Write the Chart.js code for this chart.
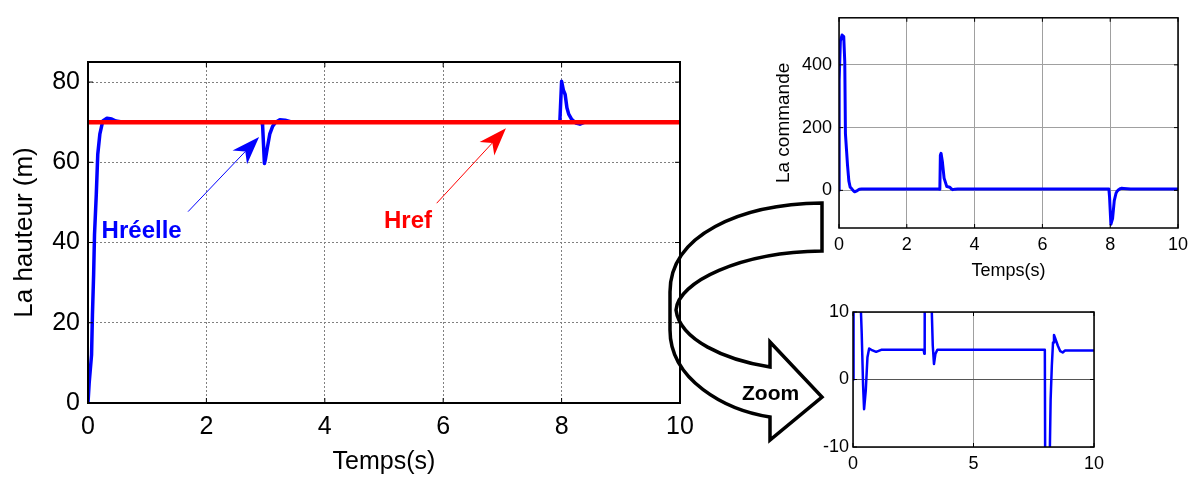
<!DOCTYPE html>
<html>
<head>
<meta charset="utf-8">
<script src="https://cdn.jsdelivr.net/npm/chart.js@4"></script>
<style>
  html, body { margin: 0; padding: 0; background: #fff; }
  #page { position: relative; width: 1196px; height: 478px; overflow: hidden; }
  #page canvas { position: absolute; }
</style>
</head>
<body>
<div id="page">
  <canvas id="hauteur" width="720" height="478" style="left:0px;top:0px"></canvas>
  <canvas id="commande" width="436" height="300" style="left:760px;top:0px"></canvas>
  <canvas id="zoomChart" width="396" height="188" style="left:800px;top:290px"></canvas>
  <canvas id="overlay" width="1196" height="478" style="left:0px;top:0px;pointer-events:none"></canvas>
</div>
<script>
const FONT = "'Liberation Sans', Arial, Helvetica, sans-serif";

// La hauteur (m) - réelle
const tHauteur = [0, 0.02, 0.06, 0.075, 0.095, 0.11, 0.14, 0.165, 0.2, 0.25, 0.32, 0.4, 0.47, 0.55,
  2.94, 2.95, 2.98, 3.0, 3.03, 3.07, 3.12, 3.17, 3.24, 3.33, 3.42,
  7.97, 8.0, 8.03, 8.06, 8.09, 8.12, 8.17, 8.24, 8.31, 8.37, 8.45, 10];
const hReelle = [0, 5, 12, 22, 32, 42, 52, 62, 67, 70.3, 71, 70.8, 70.3, 70.1,
  70, 69, 59.7, 61, 63.7, 67, 69, 70, 70.6, 70.5, 70.1,
  70, 80.2, 78, 76.9, 73.6, 72, 70.7, 69.8, 69.5, 69.9, 70.1, 70];
// Href
const tRef = [0, 10];
const hRef = [70, 70];

// La commande
const tCommande = [0, 0.005, 0.04, 0.09, 0.14, 0.17, 0.19, 0.25, 0.29, 0.33, 0.36, 0.42, 0.46, 0.53, 0.6, 0.67, 0.76, 0.96, 1.17,
  2.93, 2.96, 2.975, 2.99, 3.01, 3.05, 3.1, 3.18, 3.27, 3.31, 3.36, 3.42, 3.5,
  7.96, 7.98, 8.02, 8.07, 8.12, 8.17, 8.2, 8.25, 8.3, 8.34, 8.4, 8.5, 8.6, 8.7, 8.8, 10];
const uCommande = [0, 350, 475, 495, 490, 410, 180, 82, 30, 10, 7, -1, -4.4, -1.6, 3.3, 4.6, 4.4, 4.1, 4.4,
  4.4, 3.8, 4.5, 112, 118, 91, 39, 12, 10, 5, 2.3, 3.8, 4.4,
  4.4, -20, -108, -90, -33, -10, -3, 2, 5.5, 6.6, 6, 5, 4.2, 4.0, 4.3, 4.3];

// tick labels
const ticksTemps = [0, 2, 4, 6, 8, 10];
const ticksHauteur = [0, 20, 40, 60, 80];
const ticksCommande = [0, 200, 400];
const ticksZoomT = [0, 5, 10];
const ticksZoomU = [-10, 0, 10];

const pts = (xs, ys) => xs.map((x, i) => ({ x: x, y: ys[i] }));

function axis(min, max, ticks, o) {
  return {
    type: 'linear', min: min, max: max,
    afterBuildTicks: s => { s.ticks = ticks.map(v => ({ value: v })); },
    afterFit: s => {
      if (o.width != null) s.width = o.width;
      if (o.height != null) s.height = o.height;
    },
    grid: { color: o.grid, lineWidth: 1, drawTicks: false },
    border: { display: false, dash: o.dash || [] },
    ticks: { padding: o.pad, color: '#000', autoSkip: false, maxRotation: 0,
             font: { family: FONT, size: o.size } },
    title: o.title
      ? { display: true, text: o.title, color: '#000', padding: o.titlePad,
          font: { family: FONT, size: o.titleSize } }
      : { display: false }
  };
}

// box + inner ticks, matlab style
function frame(width, len) {
  return {
    id: 'frame',
    afterDraw(chart) {
      const { ctx, chartArea: a, scales: { x, y } } = chart;
      ctx.save();
      ctx.strokeStyle = '#000';
      ctx.lineWidth = 1;
      ctx.beginPath();
      x.ticks.forEach(t => {
        const p = x.getPixelForValue(t.value);
        ctx.moveTo(p, a.bottom); ctx.lineTo(p, a.bottom - len);
        ctx.moveTo(p, a.top); ctx.lineTo(p, a.top + len);
      });
      y.ticks.forEach(t => {
        const p = y.getPixelForValue(t.value);
        ctx.moveTo(a.left, p); ctx.lineTo(a.left + len, p);
        ctx.moveTo(a.right, p); ctx.lineTo(a.right - len, p);
      });
      ctx.stroke();
      ctx.lineWidth = width;
      ctx.strokeRect(a.left, a.top, a.right - a.left, a.bottom - a.top);
      ctx.restore();
    }
  };
}

function drawArrow(ctx, x0, y0, x1, y1, color) {
  const ang = Math.atan2(y1 - y0, x1 - x0);
  const L = 28, W = 10, N = 8;
  ctx.strokeStyle = color;
  ctx.fillStyle = color;
  ctx.lineWidth = 1;
  ctx.beginPath();
  ctx.moveTo(x0, y0);
  ctx.lineTo(x1 - (L - N) * Math.cos(ang), y1 - (L - N) * Math.sin(ang));
  ctx.stroke();
  ctx.save();
  ctx.translate(x1, y1);
  ctx.rotate(ang);
  ctx.beginPath();
  ctx.moveTo(0, 0);
  ctx.lineTo(-L, -W);
  ctx.lineTo(-(L - N), 0);
  ctx.lineTo(-L, W);
  ctx.closePath();
  ctx.fill();
  ctx.restore();
}

// labels and arrows of the main plot, in data units
const annotations = {
  id: 'annot',
  afterDatasetsDraw(chart) {
    const { ctx, scales: { x, y } } = chart;
    ctx.save();
    drawArrow(ctx, x.getPixelForValue(1.69), y.getPixelForValue(47.7),
              x.getPixelForValue(2.89), y.getPixelForValue(66.3), '#0000ff');
    drawArrow(ctx, x.getPixelForValue(5.89), y.getPixelForValue(49.8),
              x.getPixelForValue(7.06), y.getPixelForValue(68.5), '#ff0000');
    ctx.font = 'bold 24px ' + FONT;
    ctx.textBaseline = 'alphabetic';
    ctx.fillStyle = '#0000ff';
    ctx.fillText('Hréelle', x.getPixelForValue(0.23), y.getPixelForValue(41.2));
    ctx.fillStyle = '#ff0000';
    ctx.fillText('Href', x.getPixelForValue(5.0), y.getPixelForValue(43.5));
    ctx.restore();
  }
};

const common = {
  responsive: false,
  animation: false,
  events: [],
  plugins: { legend: { display: false }, tooltip: { enabled: false } },
  elements: {
    point: { radius: 0 },
    line: { tension: 0, borderJoinStyle: 'round', borderCapStyle: 'round' }
  }
};

new Chart(document.getElementById('hauteur'), {
  type: 'scatter',
  data: {
    datasets: [
      { data: pts(tRef, hRef), showLine: true, borderColor: '#ff0000', borderWidth: 4.5, borderCapStyle: 'butt' },
      { data: pts(tHauteur, hReelle), showLine: true, borderColor: '#0000ff', borderWidth: 3.5 }
    ]
  },
  options: Object.assign({}, common, {
    layout: { padding: { left: 0, top: 62, right: 40, bottom: 0 } },
    scales: {
      x: axis(0, 10, ticksTemps, { height: 75, grid: '#808080', dash: [2, 2], pad: 9, size: 25,
        title: 'Temps(s)', titleSize: 25, titlePad: { top: 0, bottom: 1 } }),
      y: axis(0, 85, ticksHauteur, { width: 88, grid: '#808080', dash: [2, 2], pad: 8, size: 25,
        title: 'La hauteur (m)', titleSize: 26, titlePad: { top: 9, bottom: 0 } })
    }
  }),
  plugins: [annotations, frame(2, 5)]
});

new Chart(document.getElementById('commande'), {
  type: 'scatter',
  data: {
    datasets: [
      { data: pts(tCommande, uCommande), showLine: true, borderColor: '#0000ff', borderWidth: 3 }
    ]
  },
  options: Object.assign({}, common, {
    layout: { padding: { left: 0, top: 13, right: 18, bottom: 0 } },
    scales: {
      x: axis(0, 10, ticksTemps, { height: 72, grid: '#a0a0a0', pad: 6, size: 18,
        title: 'Temps(s)', titleSize: 18, titlePad: { top: 0, bottom: 18 } }),
      y: axis(-120, 550, ticksCommande, { width: 79, grid: '#a0a0a0', pad: 7, size: 18,
        title: 'La commande', titleSize: 19, titlePad: { top: 12, bottom: 0 } })
    }
  }),
  plugins: [frame(1.5, 4)]
});

new Chart(document.getElementById('zoomChart'), {
  type: 'scatter',
  data: {
    datasets: [
      { data: pts(tCommande, uCommande), showLine: true, borderColor: '#0000ff', borderWidth: 2.5 }
    ]
  },
  options: Object.assign({}, common, {
    layout: { padding: { left: 0, top: 22, right: 102, bottom: 0 } },
    scales: {
      x: axis(0, 10, ticksZoomT, { height: 31, grid: '#a0a0a0', pad: 6, size: 18 }),
      y: axis(-10, 10, ticksZoomU, { width: 53, grid: c => (c.tick && c.tick.value === 0 ? '#555' : '#a0a0a0'),
        pad: 4, size: 18 })
    }
  }),
  plugins: [frame(1.5, 4)]
});

// big curved "Zoom" arrow between the plots
function drawZoomArrow() {
  const ctx = document.getElementById('overlay').getContext('2d');
  ctx.strokeStyle = '#000';
  ctx.lineWidth = 3.5;
  ctx.lineJoin = 'miter';
  ctx.beginPath();
  ctx.moveTo(822, 203);
  ctx.bezierCurveTo(740, 204, 670, 235, 670, 292);
  ctx.lineTo(670, 330);
  ctx.bezierCurveTo(670, 380, 725, 410, 770, 417);
  ctx.lineTo(770, 440);
  ctx.lineTo(822, 397);
  ctx.lineTo(770, 342);
  ctx.lineTo(770, 367);
  ctx.bezierCurveTo(725, 360, 680, 340, 676, 310);
  ctx.bezierCurveTo(678, 282, 740, 252, 822, 251);
  ctx.closePath();
  ctx.stroke();
  ctx.fillStyle = '#000';
  ctx.font = 'bold 21px ' + FONT;
  ctx.fillText('Zoom', 742, 400);
}
drawZoomArrow();
</script>
</body>
</html>
